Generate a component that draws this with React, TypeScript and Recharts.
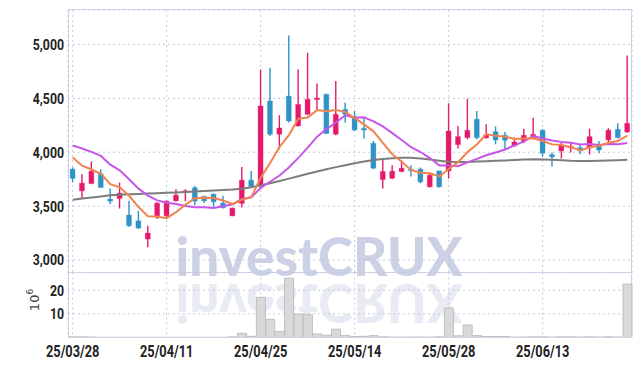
import React from 'react';
import { ComposedChart, BarChart, Bar, Line, XAxis, YAxis, CartesianGrid } from 'recharts';

const dates = [
  '25/03/28', '25/03/31', '25/04/01', '25/04/02', '25/04/03', '25/04/04', '25/04/07', '25/04/08', '25/04/09', '25/04/10',
  '25/04/11', '25/04/14', '25/04/15', '25/04/16', '25/04/17', '25/04/18', '25/04/21', '25/04/22', '25/04/23', '25/04/24',
  '25/04/25', '25/04/28', '25/04/29', '25/04/30', '25/05/02', '25/05/07', '25/05/08', '25/05/09', '25/05/12', '25/05/13',
  '25/05/14', '25/05/15', '25/05/16', '25/05/19', '25/05/20', '25/05/21', '25/05/22', '25/05/23', '25/05/26', '25/05/27',
  '25/05/28', '25/05/29', '25/05/30', '25/06/02', '25/06/04', '25/06/05', '25/06/09', '25/06/10', '25/06/11', '25/06/12',
  '25/06/13', '25/06/16', '25/06/17', '25/06/18', '25/06/19', '25/06/20', '25/06/23', '25/06/24', '25/06/25', '25/06/26',
];

const opens = [
  3843, 3642, 3710, 3799, 3565, 3571, 3417, 3364, 3194, 3410,
  3410, 3549, 3627, 3670, 3590, 3611, 3528, 3410, 3525, 3741,
  3688, 4475, 4167, 4521, 4244, 4352, 4491, 4537, 4167, 4398,
  4330, 4222, 4083, 3747, 3759, 3821, 3843, 3843, 3679, 3827,
  3827, 4071, 4136, 4306, 4133, 4191, 4157, 4058, 4105, 4136,
  4204, 3978, 4012, 4040, 4043, 4040, 4058, 4114, 4213, 4188,
];
const highs = [
  3861, 3796, 3914, 3843, 3664, 3719, 3549, 3456, 3318, 3537,
  3553, 3657, 3657, 3688, 3596, 3618, 3596, 3488, 3864, 3827,
  4769, 4784, 4343, 5083, 4769, 4923, 4639, 4546, 4660, 4460,
  4383, 4321, 4105, 3944, 3880, 3926, 3880, 3858, 3812, 3827,
  4454, 4244, 4497, 4383, 4259, 4238, 4188, 4136, 4219, 4321,
  4213, 3997, 4090, 4090, 4074, 4219, 4105, 4222, 4269, 4898,
];
const lows = [
  3722, 3565, 3704, 3670, 3519, 3479, 3308, 3287, 3118, 3380,
  3380, 3544, 3546, 3509, 3528, 3494, 3479, 3407, 3488, 3673,
  3657, 4151, 4028, 4275, 4238, 4343, 4392, 4173, 4157, 4275,
  4197, 4127, 3843, 3664, 3750, 3815, 3775, 3713, 3673, 3673,
  3756, 4034, 4120, 4120, 4127, 4074, 4028, 4049, 4083, 4120,
  3960, 3867, 3941, 3997, 3981, 3978, 3991, 4074, 4127, 4182,
];
const closes = [
  3757, 3713, 3824, 3673, 3546, 3620, 3318, 3296, 3250, 3528,
  3546, 3602, 3642, 3546, 3549, 3540, 3484, 3481, 3741, 3682,
  4429, 4167, 4225, 4290, 4444, 4491, 4503, 4173, 4352, 4352,
  4206, 4206, 3852, 3821, 3824, 3852, 3830, 3725, 3787, 3679,
  4197, 4145, 4204, 4136, 4160, 4114, 4111, 4095, 4157, 4167,
  3991, 3957, 4065, 4056, 4012, 4145, 4021, 4204, 4136, 4269,
];
const ma5 = [
  3951, 3875, 3840, 3800, 3703, 3675, 3596, 3491, 3406, 3402,
  3388, 3444, 3514, 3573, 3577, 3576, 3552, 3520, 3559, 3586,
  3763, 3900, 4049, 4159, 4311, 4323, 4391, 4380, 4393, 4374,
  4317, 4258, 4194, 4087, 3982, 3911, 3836, 3810, 3804, 3775,
  3844, 3907, 4002, 4072, 4168, 4152, 4145, 4123, 4127, 4129,
  4104, 4073, 4067, 4047, 4016, 4047, 4060, 4088, 4104, 4155,
];
const ma10 = [
  4062, 4035, 4003, 3966, 3885, 3832, 3750, 3662, 3598, 3553,
  3531, 3520, 3502, 3489, 3490, 3482, 3498, 3517, 3566, 3581,
  3670, 3726, 3784, 3859, 3948, 4043, 4145, 4215, 4276, 4343,
  4320, 4324, 4287, 4240, 4178, 4114, 4047, 4002, 3946, 3878,
  3877, 3871, 3906, 3938, 3972, 3998, 4026, 4063, 4100, 4149,
  4128, 4109, 4095, 4087, 4073, 4076, 4067, 4077, 4075, 4086,
];
const maLong = [
  3560, 3570, 3580, 3590, 3600, 3605, 3610, 3613, 3617, 3620,
  3623, 3627, 3630, 3635, 3640, 3645, 3650, 3655, 3662, 3675,
  3693, 3712, 3733, 3755, 3777, 3800, 3822, 3843, 3862, 3880,
  3897, 3915, 3928, 3938, 3945, 3950, 3948, 3942, 3932, 3922,
  3912, 3910, 3910, 3913, 3917, 3920, 3924, 3928, 3932, 3935,
  3933, 3930, 3925, 3920, 3918, 3918, 3920, 3923, 3926, 3930,
];
const volumes = [
  0.3, 0.3, 0.2, 0.1, 0.1, 0.1, 0.1, 0.1, 0.1, 0.1,
  0.1, 0.1, 0.1, 0.1, 0.1, 0.1, 0.1, 0.3, 1.8, 0.5,
  17.0, 7.7, 2.5, 25.1, 9.9, 9.6, 1.5, 1.0, 3.5, 0.8,
  0.4, 0.5, 0.8, 0.3, 0.2, 0.2, 0.2, 0.2, 0.2, 0.3,
  12.4, 0.7, 5.3, 0.8, 0.4, 0.4, 0.4, 0.2, 0.2, 0.3,
  0.3, 0.2, 0.3, 0.3, 0.2, 0.3, 0.2, 0.3, 0.2, 22.6,
];

const tickDates = ['25/03/28', '25/04/11', '25/04/25', '25/05/14', '25/05/28', '25/06/13'];
const priceTicks = [3000, 3500, 4000, 4500, 5000];
const volumeTicks = [10, 20];

const rows = dates.map((d, i) => ({
  date: d,
  open: opens[i],
  high: highs[i],
  low: lows[i],
  close: closes[i],
  range: [lows[i], highs[i]],
  ma5: ma5[i],
  ma10: ma10[i],
  maLong: maLong[i],
  volume: volumes[i],
}));

const UP = '#e5196b';
const DOWN = '#2f93c8';
const GRID = '#c6c9e0';
const BORDER = '#d2d3e4';
const TICK_FONT = "'Roboto', 'Liberation Sans', sans-serif";

function Candle(props: any) {
  const { x, y, width, height, payload } = props;
  if (!payload) return null;
  const top = Math.min(y, y + height);
  const h = Math.abs(height);
  const { open, high, low, close } = payload;
  const span = high - low || 1;
  const py = (p: number) => top + ((high - p) / span) * h;
  const up = close >= open;
  const color = up ? UP : DOWN;
  const bTop = py(Math.max(open, close));
  const bBot = py(Math.min(open, close));
  const cx = x + width / 2;
  return (
    <g>
      <line x1={cx} x2={cx} y1={top} y2={top + h} stroke={color} strokeWidth={1.4} />
      <rect
        x={x}
        y={bTop}
        width={width}
        height={Math.max(bBot - bTop, 1.5)}
        fill={color}
        stroke={color}
        strokeOpacity={0.3}
        strokeWidth={1}
      />
    </g>
  );
}

function YTick(props: any) {
  const { x, y, payload, tickFormatter } = props;
  const label = tickFormatter ? tickFormatter(payload.value) : String(payload.value);
  return (
    <g transform={`translate(${x},${y}) scale(0.82,1)`}>
      <text
        x={0}
        y={0}
        dy="0.36em"
        textAnchor="end"
        fill="#222"
        fontSize={15}
        fontWeight="bold"
        fontFamily={TICK_FONT}
      >
        {label}
      </text>
    </g>
  );
}

function XTick(props: any) {
  const { x, y, payload } = props;
  return (
    <g transform={`translate(${x},${y}) scale(0.8,1)`}>
      <text
        x={0}
        y={0}
        dy="0.75em"
        textAnchor="middle"
        fill="#222"
        fontSize={16}
        fontWeight="bold"
        fontFamily={TICK_FONT}
      >
        {payload.value}
      </text>
    </g>
  );
}

export default function App() {
  return (
    <div style={{ position: 'absolute', left: 0, top: 0, width: 642, height: 366, background: '#fff' }}>
      <svg width={642} height={366} style={{ position: 'absolute', left: 0, top: 0 }}>
        <rect x={68.5} y={9.5} width={563} height={328} fill="none" stroke={BORDER} strokeWidth={1} />
        <line x1={68} x2={632} y1={272.5} y2={272.5} stroke={BORDER} strokeWidth={1} />
        <g fontFamily="'Lato', 'Roboto', sans-serif" fontWeight={900} fontSize={53} textAnchor="middle">
          <text x={319} y={276} fill="#c6cce3" fillOpacity={0.9}>investCRUX</text>
          <text x={319} y={276} fill="#c6cce3" fillOpacity={0.4} transform="translate(0,560) scale(1,-1)">
            investCRUX
          </text>
        </g>
        <text
          transform="translate(39,300) rotate(-90)"
          textAnchor="middle"
          fontFamily="'DejaVu Sans', sans-serif"
          fontSize={13}
          fill="#444"
        >
          10<tspan dy={-6} fontSize={9}>6</tspan>
        </text>
      </svg>

      <div style={{ position: 'absolute', left: 0, top: 0 }}>
        <ComposedChart
          width={642}
          height={272.5}
          data={rows}
          margin={{ top: 10, right: 10, left: 8, bottom: 0 }}
          barCategoryGap="22%"
        >
          <CartesianGrid stroke={GRID} strokeDasharray="2 3" />
          <XAxis dataKey="date" hide ticks={tickDates} interval={0} />
          <YAxis
            width={60}
            domain={[2884, 5320]}
            ticks={priceTicks}
            allowDataOverflow
            axisLine={false}
            tickLine={false}
            tickSize={4}
            tickMargin={0}
            tickFormatter={(v: number) => v.toLocaleString('en-US')}
            tick={<YTick />}
          />
          <Bar dataKey="range" shape={<Candle />} isAnimationActive={false} />
          <Line type="linear" dataKey="maLong" stroke="#7d7d7d" strokeWidth={2} dot={false} isAnimationActive={false} />
          <Line type="linear" dataKey="ma10" stroke="#c657e6" strokeWidth={2} dot={false} isAnimationActive={false} />
          <Line type="linear" dataKey="ma5" stroke="#f0834e" strokeWidth={2} dot={false} isAnimationActive={false} />
        </ComposedChart>
      </div>

      <div style={{ position: 'absolute', left: 0, top: 272 }}>
        <BarChart
          width={642}
          height={94}
          data={rows}
          margin={{ top: 0.5, right: 10, left: 8, bottom: 0 }}
          barCategoryGap="4%"
        >
          <CartesianGrid stroke={GRID} strokeDasharray="2 3" />
          <XAxis
            dataKey="date"
            ticks={tickDates}
            interval={0}
            height={28.5}
            axisLine={{ stroke: BORDER }}
            tickLine={false}
            tickMargin={1}
            tick={<XTick />}
          />
          <YAxis
            width={60}
            domain={[0, 27.5]}
            ticks={volumeTicks}
            allowDataOverflow
            axisLine={false}
            tickLine={false}
            tickSize={4}
            tickMargin={0}
            tick={<YTick />}
          />
          <Bar dataKey="volume" fill="#d9d9d9" stroke="#bfbfbf" strokeWidth={1} isAnimationActive={false} />
        </BarChart>
      </div>
    </div>
  );
}
